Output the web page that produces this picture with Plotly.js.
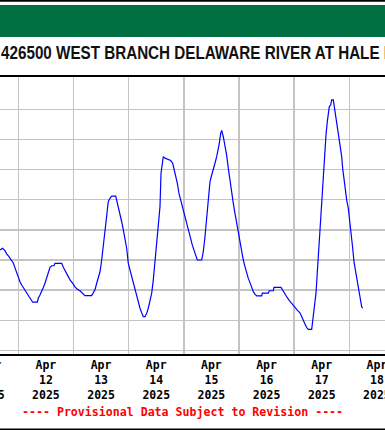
<!DOCTYPE html>
<html><head><meta charset="utf-8">
<script src="https://cdn.plot.ly/plotly-3.0.1.min.js"></script>
<style>
html,body{margin:0;padding:0;overflow:hidden;width:385px;height:430px;background:#fff}
#chart{position:absolute;left:-90px;top:0;width:560px;height:430px}
</style>
</head><body><div id="chart"></div>
<script>
// ---- data ----
const stationTitle = "426500 WEST BRANCH DELAWARE RIVER AT HALE EDDY NY";
const footnote = "---- Provisional Data Subject to Revision ----";
const startYear = 2025, startMonthIndex = 3, startDay = 12; // 2025-04-12 00:00
const hoursFromStart = [-7.96,-6.87,-5.79,-5.05,-4.05,-3.18,-2.18,-1.44,-0.70,0,
0.74,1.48,2.18,2.91,3.65,4.35,5.09,5.83,6.26,8.27,
8.70,9.44,10.18,10.88,11.61,12.35,13.05,13.79,14.53,15.53,
15.96,18.88,19.58,20.31,21.05,21.75,22.49,23.23,23.93,24.66,
25.67,26.84,28.01,29.01,31.93,32.63,33.36,34.10,34.80,35.54,
36.28,36.98,37.71,38.45,39.15,39.89,40.63,42.37,42.80,43.50,
44.24,44.98,45.68,46.41,47.15,47.85,48.59,49.33,50.03,50.76,
51.50,52.20,52.94,53.68,54.38,55.11,55.85,56.55,57.29,58.03,
58.73,59.46,60.20,60.90,61.64,62.08,62.64,63.08,63.82,66.29,
67.16,67.73,68.47,69.17,69.90,70.64,71.34,72.08,72.82,73.52,
74.25,74.99,75.69,76.43,77.17,77.87,79.78,80.48,81.21,81.95,
82.65,83.39,84.13,84.83,85.56,86.30,87.00,87.44,88.04,88.48,
89.18,89.91,90.65,91.35,92.08,92.82,93.53,94.26,95.00,95.70,
96.44,97.18,97.88,98.61,99.35,100.05,100.79,101.53,102.23,102.96,
103.70,105.88,106.14,108.75,109.19,110.93,111.23,114.27,114.84,115.58,
116.32,117.02,117.75,118.49,119.36,120.36,121.37,122.54,123.28,123.98,
124.71,125.45,126.15,127.63,128.06,128.63,129.06,129.50,130.07,130.50,
130.94,131.54,131.98,132.41,132.98,133.42,133.85,134.42,134.85,135.29,
135.89,136.33,137.03,137.46,138.07,138.77,139.50,140.07,140.68,141.11,
141.68,142.25,142.85,143.55,144.29,144.73,145.47,146.03,146.77,147.47,
148.21,148.77,149.38,149.81];
const gageHeightFt = [4.233,4.239,4.231,4.220,4.211,4.200,4.190,4.174,4.157,4.145,
4.128,4.117,4.109,4.098,4.090,4.081,4.073,4.065,4.060,4.060,
4.073,4.084,4.095,4.109,4.123,4.139,4.161,4.176,4.181,4.181,
4.189,4.189,4.176,4.167,4.154,4.145,4.134,4.128,4.120,4.111,
4.103,4.098,4.090,4.082,4.082,4.090,4.101,4.123,4.142,4.161,
4.200,4.244,4.289,4.344,4.394,4.405,4.412,4.412,4.399,4.377,
4.355,4.327,4.300,4.272,4.239,4.189,4.167,4.145,4.123,4.101,
4.078,4.056,4.040,4.025,4.012,4.012,4.023,4.040,4.062,4.090,
4.134,4.189,4.244,4.300,4.377,4.488,4.532,4.543,4.538,4.530,
4.521,4.504,4.482,4.455,4.421,4.399,4.372,4.349,4.327,4.305,
4.283,4.266,4.250,4.233,4.217,4.200,4.200,4.228,4.277,4.344,
4.410,4.460,4.482,4.499,4.521,4.543,4.565,4.587,4.620,4.630,
4.609,4.580,4.547,4.505,4.460,4.427,4.388,4.355,4.322,4.283,
4.255,4.228,4.200,4.178,4.156,4.139,4.125,4.106,4.095,4.087,
4.081,4.081,4.090,4.090,4.098,4.098,4.109,4.109,4.101,4.092,
4.083,4.075,4.067,4.060,4.051,4.043,4.034,4.025,4.014,4.003,
3.988,3.976,3.970,3.970,3.993,4.031,4.062,4.090,4.161,4.217,
4.283,4.338,4.405,4.460,4.515,4.559,4.615,4.659,4.692,4.709,
4.714,4.731,4.731,4.709,4.681,4.654,4.620,4.582,4.543,4.504,
4.466,4.427,4.399,4.372,4.327,4.294,4.239,4.194,4.161,4.128,
4.101,4.067,4.045,4.040];
const yGridValues = [3.9,4.0,4.1,4.2,4.3,4.4,4.5,4.6,4.7];
const yRange = [3.8882, 4.8072];

// ---- geometry (page pixels) ----
const HOUR = 3600e3, DAY = 864e5;
const base = Date.UTC(startYear, startMonthIndex, startDay);
const xs = hoursFromStart.map(h => base + h * HOUR);
const DIV_LEFT = -90, DIV_W = 560, DIV_H = 430;
const M = {l: 40, r: 40, t: 77, b: 76, pad: 0};
const PLOT_LEFT = DIV_LEFT + M.l;
const PLOT_W = DIV_W - M.l - M.r;
const PLOT_BOTTOM = DIV_H - M.b;
const PLOT_H = PLOT_BOTTOM - M.t;
const DAY_PX = 55.17, MIDNIGHT_PX = 18.3;
const xRange = [base + (PLOT_LEFT - MIDNIGHT_PX) / DAY_PX * DAY,
                base + (PLOT_LEFT + PLOT_W - MIDNIGHT_PX) / DAY_PX * DAY];
const px = X => (X - PLOT_LEFT) / PLOT_W;
const py = Y => (PLOT_BOTTOM - Y) / PLOT_H;
const TITLE_SQUEEZE = 0.845; // the reference title uses a narrow bold face

const monoFont = {family: "DejaVu Sans Mono, monospace", size: 11.5, color: "#000", weight: "bold"};

const trace = {
  x: xs, y: gageHeightFt, type: "scatter", mode: "lines",
  line: {color: "#0000ff", width: 1.2}, hoverinfo: "skip"
};

const layout = {
  width: DIV_W, height: DIV_H, margin: M,
  paper_bgcolor: "#fff", plot_bgcolor: "#fff", showlegend: false,
  xaxis: {
    type: "date", range: xRange, dtick: DAY, tick0: base,
    ticklabelmode: "period", tickformat: "%b<br>%d<br>%Y",
    tickfont: monoFont, ticks: "", showgrid: true, gridcolor: "#c4c4c4", gridwidth: 1.5,
    showline: true, mirror: true, linecolor: "#000", linewidth: 1.6,
    zeroline: false, automargin: false, fixedrange: true
  },
  yaxis: {
    range: yRange, tickmode: "array", tickvals: yGridValues, showticklabels: false,
    ticks: "", showgrid: true, gridcolor: "#c4c4c4", gridwidth: 1.5,
    showline: true, mirror: true, linecolor: "#000", linewidth: 1.6,
    zeroline: false, automargin: false, fixedrange: true
  },
  shapes: [
    {type: "rect", xref: "paper", yref: "paper", x0: px(-100), x1: px(480), y0: py(1.8), y1: py(0), fillcolor: "#000", line: {width: 0}, layer: "above"},
    {type: "rect", xref: "paper", yref: "paper", x0: px(-100), x1: px(480), y0: py(37), y1: py(5), fillcolor: "#007043", line: {width: 0}, layer: "above"},
    {type: "rect", xref: "paper", yref: "paper", x0: px(-100), x1: px(480), y0: py(430), y1: py(428.5), fillcolor: "#000", line: {width: 0}, layer: "above"}
  ],
  annotations: [
    {text: stationTitle, xref: "paper", yref: "paper", x: px(-1), y: py(53.5), xanchor: "left", yanchor: "middle",
     showarrow: false, font: {family: "Liberation Sans, Arial, sans-serif", size: 18, color: "#111", weight: "bold"}},
    {text: footnote, xref: "paper", yref: "paper", x: px(182.5), y: py(412), xanchor: "center", yanchor: "middle",
     showarrow: false, font: {family: "DejaVu Sans Mono, monospace", size: 11.6, color: "#ff0000", weight: "bold"}}
  ]
};

Plotly.newPlot("chart", [trace], layout, {displayModeBar: false, staticPlot: true, responsive: false}).then(gd => {
  // squeeze the title horizontally, keeping its left edge fixed
  const t = gd.querySelector(".annotation .annotation-text");
  if (t) {
    const b = t.getBBox();
    t.setAttribute("transform", `translate(${b.x},0) scale(${TITLE_SQUEEZE},1) translate(${-b.x},0)`);
  }
});
</script>
</body></html>
